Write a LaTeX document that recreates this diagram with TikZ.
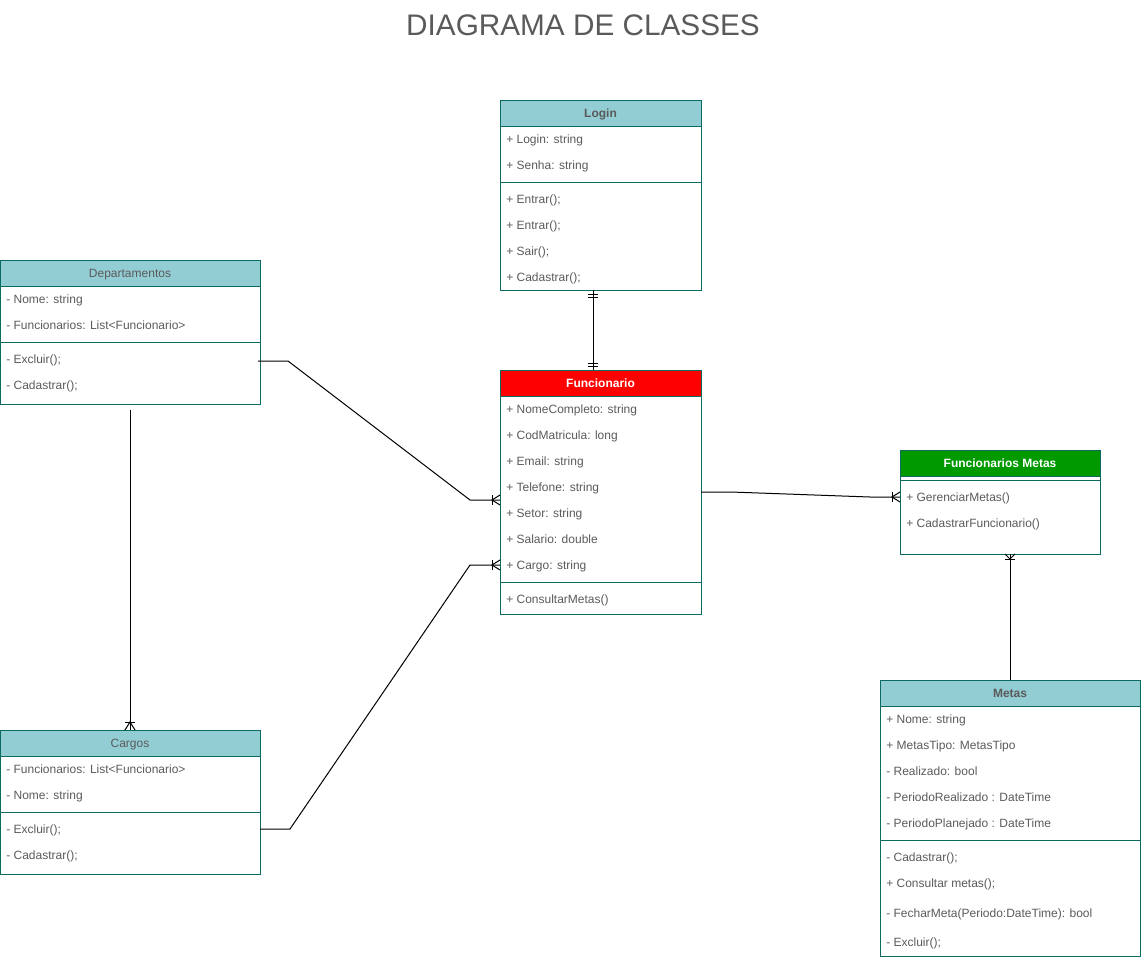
\documentclass[tikz,border=0pt]{standalone}
\usepackage{fontspec}
\setmainfont{Liberation Sans}
\usetikzlibrary{fit,calc}
\definecolor{hdr}{HTML}{93CDD4}
\definecolor{bord}{HTML}{0A6B5E}
\definecolor{txt}{HTML}{5A5A5A}
\definecolor{redh}{HTML}{FF0000}
\definecolor{greenh}{HTML}{009900}
\tikzset{
  box/.style={draw=bord, line width=0.75pt, inner sep=0pt, fit={#1}},
  header/.style={draw=bord, line width=0.75pt, fill=hdr, inner sep=0pt, fit={#1}},
  htxt/.style={anchor=base, yshift=-3.3pt, inner sep=0pt, text=txt, font=\fontsize{9}{11}\selectfont},
  htxtb/.style={anchor=base, yshift=-3.3pt, inner sep=0pt, text=txt, font=\fontsize{9}{11}\selectfont\bfseries},
  wtxtb/.style={anchor=base, yshift=-3.3pt, inner sep=0pt, text=white, font=\fontsize{9}{11}\selectfont\bfseries},
  row/.style={anchor=base west, yshift=-3.3pt, inner sep=0pt, text=txt, font=\fontsize{9}{11}\selectfont},
  sepline/.style={draw=bord, line width=0.75pt},
  conn/.style={draw=black, line width=0.75pt},
}
\newcommand{\crowright}[1]{%
  \draw[conn] ($(#1)+(-8,-5)$) -- ($(#1)+(-8,5)$);
  \draw[conn] ($(#1)+(0,-5)$) -- ($(#1)+(-8,0)$) -- ($(#1)+(0,5)$);}
\newcommand{\crowdown}[1]{%
  \draw[conn] ($(#1)+(-5,-8)$) -- ($(#1)+(5,-8)$);
  \draw[conn] ($(#1)+(-5,0)$) -- ($(#1)+(0,-8)$) -- ($(#1)+(5,0)$);}
\newcommand{\crowup}[1]{%
  \draw[conn] ($(#1)+(-5,5)$) -- ($(#1)+(5,5)$);
  \draw[conn] ($(#1)+(-5,0)$) -- ($(#1)+(0,5)$) -- ($(#1)+(5,0)$);}
\begin{document}
\begin{tikzpicture}[x=0.75pt,y=-0.75pt]
\useasboundingbox (0,0) rectangle (1141,960);
\node[text=txt, font=\fontsize{22.3}{26}\selectfont] (title) at (583,25) {DIAGRAMA DE CLASSES};

% Login
\node[box={(500,100)(701,290)}] (login) {};
\node[header={(500,100)(701,126)}] (loginh) {};
\node[htxtb] (loginht) at (loginh.center) {Login};
\node[row] (l1) at (506,139) {+ Login: string};
\node[row] (l2) at (506,165) {+ Senha: string};
\draw[sepline] (500,182) -- (701,182);
\node[row] (l3) at (506,199) {+ Entrar();};
\node[row] (l4) at (506,225) {+ Entrar();};
\node[row] (l5) at (506,251) {+ Sair();};
\node[row] (l6) at (506,277) {+ Cadastrar();};

% Departamentos
\node[box={(0,260)(260,404)}] (dep) {};
\node[header={(0,260)(260,286)}] (deph) {};
\node[htxt] (depht) at (deph.center) {Departamentos};
\node[row] (d1) at (6,299) {- Nome: string};
\node[row] (d2) at (6,325) {- Funcionarios: List<Funcionario>};
\draw[sepline] (0,342) -- (260,342);
\node[row] (d3) at (6,359) {- Excluir();};
\node[row] (d4) at (6,385) {- Cadastrar();};

% Funcionario
\node[box={(500,370)(701,614)}] (func) {};
\node[header={(500,370)(701,396)}, fill=redh] (funch) {};
\node[wtxtb] (funcht) at (funch.center) {Funcionario};
\node[row] (f1) at (506,409) {+ NomeCompleto: string};
\node[row] (f2) at (506,435) {+ CodMatricula: long};
\node[row] (f3) at (506,461) {+ Email: string};
\node[row] (f4) at (506,487) {+ Telefone: string};
\node[row] (f5) at (506,513) {+ Setor: string};
\node[row] (f6) at (506,539) {+ Salario: double};
\node[row] (f7) at (506,565) {+ Cargo: string};
\draw[sepline] (500,582) -- (701,582);
\node[row] (f8) at (506,599) {+ ConsultarMetas()};

% Funcionarios Metas
\node[box={(900,450)(1100,554)}] (fm) {};
\node[header={(900,450)(1100,476)}, fill=greenh] (fmh) {};
\node[wtxtb] (fmht) at (fmh.center) {Funcionarios Metas};
\draw[sepline] (900,480) -- (1100,480);
\node[row] (m1) at (906,497) {+ GerenciarMetas()};
\node[row] (m2) at (906,523) {+ CadastrarFuncionario()};

% Metas
\node[box={(880,680)(1140,956)}] (metas) {};
\node[header={(880,680)(1140,706)}] (metash) {};
\node[htxtb] (metasht) at (metash.center) {Metas};
\node[row] (t1) at (886,719) {+ Nome: string};
\node[row] (t2) at (886,745) {+ MetasTipo: MetasTipo};
\node[row] (t3) at (886,771) {- Realizado: bool};
\node[row] (t4) at (886,797) {- PeriodoRealizado : DateTime};
\node[row] (t5) at (886,823) {- PeriodoPlanejado : DateTime};
\draw[sepline] (880,840) -- (1140,840);
\node[row] (t6) at (886,857) {- Cadastrar();};
\node[row] (t7) at (886,883) {+ Consultar metas();};
\node[row] (t8) at (886,913) {- FecharMeta(Periodo:DateTime): bool};
\node[row] (t9) at (886,942) {- Excluir();};

% Cargos
\node[box={(0,730)(260,874)}] (cargos) {};
\node[header={(0,730)(260,756)}] (cargosh) {};
\node[htxt] (cargosht) at (cargosh.center) {Cargos};
\node[row] (c1) at (6,769) {- Funcionarios: List<Funcionario>};
\node[row] (c2) at (6,795) {- Nome: string};
\draw[sepline] (0,812) -- (260,812);
\node[row] (c3) at (6,829) {- Excluir();};
\node[row] (c4) at (6,855) {- Cadastrar();};

% connector end points
\coordinate (loginB) at (593,290);
\coordinate (funcT) at (593,370);
\coordinate (depR) at (258,361);
\coordinate (funcL1) at (500,500);
\coordinate (cargosR) at (260,829);
\coordinate (funcL2) at (500,565);
\coordinate (funcR) at (701,492);
\coordinate (fmL) at (900,497);
\coordinate (metasT) at (1010,680);
\coordinate (fmB) at (1010,554);
\coordinate (depB) at (130,410);
\coordinate (cargosT) at (130,730);

% Login - Funcionario
\draw[conn] (loginB) -- (funcT);
\draw[conn] ($(loginB)+(-5,4)$) -- ($(loginB)+(5,4)$);
\draw[conn] ($(loginB)+(-5,7)$) -- ($(loginB)+(5,7)$);
\draw[conn] ($(funcT)+(-5,-4)$) -- ($(funcT)+(5,-4)$);
\draw[conn] ($(funcT)+(-5,-7)$) -- ($(funcT)+(5,-7)$);

% Departamentos - Funcionario
\draw[conn] (depR) -- (288,361) -- (470,500) -- (funcL1);
\crowright{funcL1}
% Cargos - Funcionario
\draw[conn] (cargosR) -- (290,829) -- (470,565) -- (funcL2);
\crowright{funcL2}
% Funcionario - Funcionarios Metas
\draw[conn] (funcR) -- (731,492) -- (870,497) -- (fmL);
\crowright{fmL}
% Metas - Funcionarios Metas
\draw[conn] (metasT) -- (fmB);
\crowup{fmB}
% Departamentos - Cargos
\draw[conn] (depB) -- (cargosT);
\crowdown{cargosT}
\end{tikzpicture}
\end{document}
